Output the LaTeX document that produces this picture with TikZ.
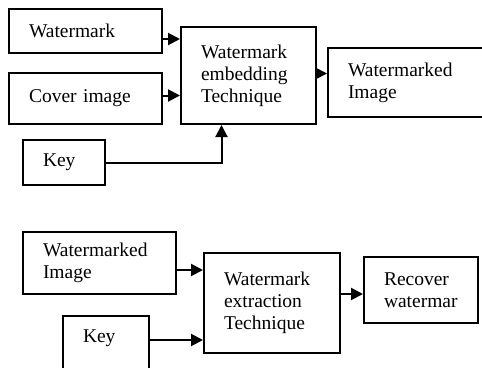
\documentclass[tikz,border=0pt]{standalone}
\usepackage{fontspec}
\setmainfont{Liberation Serif}
\usetikzlibrary{arrows.meta}
\tikzset{
  blk/.style={draw, line width=2pt, align=left, inner xsep=20pt, font=\fontsize{19.5}{22}\selectfont},
  arr/.style={line width=2pt, -{Triangle[length=12pt,width=12pt]}}
}
\begin{document}
\begin{tikzpicture}[x=1pt,y=-1pt]
\useasboundingbox (0,0) rectangle (482,367);
\clip (0,0) rectangle (482,367);
% embedding
\node[blk, text width=113pt, minimum height=44pt] (wm) at (85.5,31) {Watermark};
\node[blk, text width=113pt, minimum height=51pt] (cover) at (85.5,98.5) {Cover image};
\node[blk, text width=95pt, minimum height=97pt] (embed) at (248.5,75.5) {Watermark\\embedding\\Technique};
\node[blk, text width=132pt, minimum height=69pt] (wmimg) at (414,82.5) {Watermarked\\Image};
\node[blk, text width=42pt, minimum height=45pt] (keyA) at (64,162.5) {Key};
\draw[arr] ([yshift=-8pt]wm.east) -- ([yshift=-8pt]embed.west |- wm.east);
\draw[arr] ([yshift=3pt]cover.east) -- ([yshift=3pt]embed.west |- cover.east);
\draw[arr] ([yshift=2pt]embed.east) -- ([yshift=2pt]wmimg.west |- embed.east);
\draw[arr] (keyA.east) -| ([xshift=-27pt]embed.south);
% extraction
\node[blk, text width=113pt, minimum height=62pt] (wmimgB) at (99.5,263) {Watermarked\\Image};
\node[blk, text width=46pt, anchor=north west, inner ysep=14pt, text depth=40pt] (keyB) at (62,315) {Key};
\node[blk, text width=96pt, minimum height=100pt] (extract) at (272,303) {Watermark\\extraction\\Technique};
\node[blk, text width=74pt, minimum height=66pt] (recover) at (421,290) {Recover\\watermar};
\draw[arr] ([yshift=-7pt]wmimgB.east) -- ([yshift=-7pt]extract.west |- wmimgB.east);
\draw[arr] ([yshift=-25pt]keyB.north east) -- ([yshift=-25pt]extract.west |- keyB.north east);
\draw[arr] ([yshift=-4pt]extract.east |- recover.west) -- ([yshift=-4pt]recover.west);
\end{tikzpicture}
\end{document}
